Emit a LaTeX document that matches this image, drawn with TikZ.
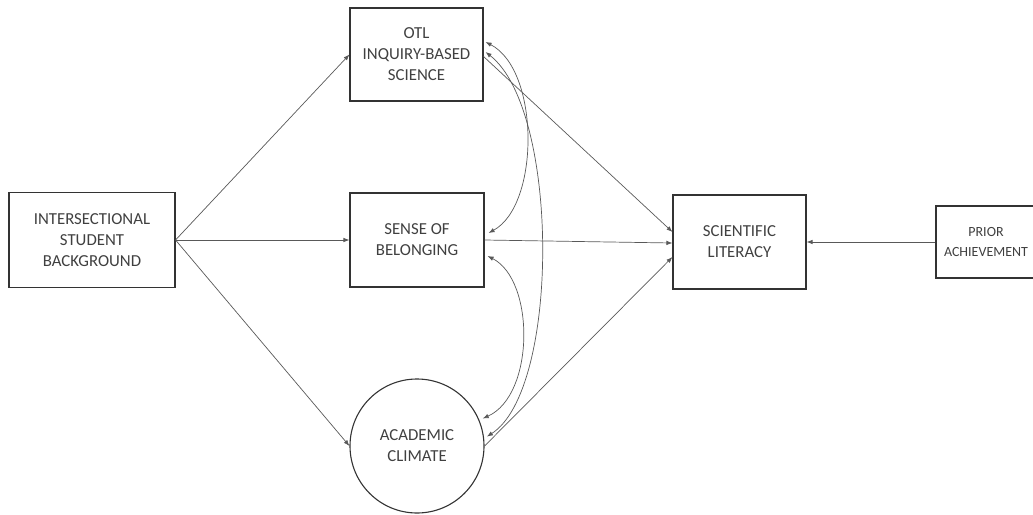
\documentclass[tikz,border=0pt]{standalone}
\usepackage{fontspec}
\setmainfont{Carlito}
\usetikzlibrary{arrows.meta,calc}
\begin{document}
\begin{tikzpicture}[x=1pt,y=-1pt,
  box/.style={draw=black!80,line width=1.1pt,align=center,inner sep=0pt,
    font=\fontsize{16.8}{21}\selectfont,text=black!75},
  conn/.style={draw=black!65,line width=0.7pt,-{Latex[length=6pt,width=4.5pt]}},
  dconn/.style={draw=black!65,line width=0.7pt,{Latex[length=6pt,width=4.5pt]}-{Latex[length=6pt,width=4.5pt]}}]
\useasboundingbox (0,0) rectangle (1033,514);
\clip (0,0) rectangle (1033,514);
\node[box,minimum width=166pt,minimum height=95pt] (isb) at (92,240) {INTERSECTIONAL\\STUDENT\\BACKGROUND};
\node[box,minimum width=133pt,minimum height=93pt] (otl) at (416.5,54.5) {OTL\\INQUIRY-BASED\\SCIENCE};
\node[box,minimum width=134pt,minimum height=94pt] (sob) at (417,240) {SENSE OF\\BELONGING};
\node[box,circle,minimum size=134pt] (ac) at (417,446) {ACADEMIC\\CLIMATE};
\node[box,minimum width=133pt,minimum height=94pt] (sl) at (739.5,242) {SCIENTIFIC\\LITERACY};
\node[box,minimum width=100pt,minimum height=72pt,font=\fontsize{14}{20}\selectfont] (pa) at (986,242) {PRIOR\\ACHIEVEMENT};
% straight paths
\draw[conn] (isb.east) -- (otl.west);
\draw[conn] (isb.east) -- (sob.west);
\draw[conn] (isb.east) -- (ac.west);
\draw[conn] ([yshift=-2pt]otl.east) -- ([yshift=10pt]sl.west);
\draw[conn] (sob.east) -- ([yshift=-1pt]sl.west);
\draw[conn] (ac.east) -- ([yshift=-15pt]sl.west);
\draw[conn] (pa.west) -- (sl.east);
% correlations
\coordinate (o1) at ([xshift=2pt,yshift=12.5pt]otl.east);
\coordinate (o2) at ([xshift=2pt,yshift=2.5pt]otl.east);
\coordinate (s1) at ([xshift=4pt,yshift=7pt]sob.east);
\coordinate (s2) at ([xshift=3pt,yshift=-16pt]sob.east);
\coordinate (c1) at ([xshift=3pt]ac.8);
\coordinate (c2) at ([xshift=4pt]ac.24);
\draw[dconn] (o1) .. controls (540,70) and (540,205) .. (s1);
\draw[dconn] (o2) .. controls (560,110) and (560,390) .. (c1);
\draw[dconn] (s2) .. controls (535,280) and (535,395) .. (c2);
\end{tikzpicture}
\end{document}
